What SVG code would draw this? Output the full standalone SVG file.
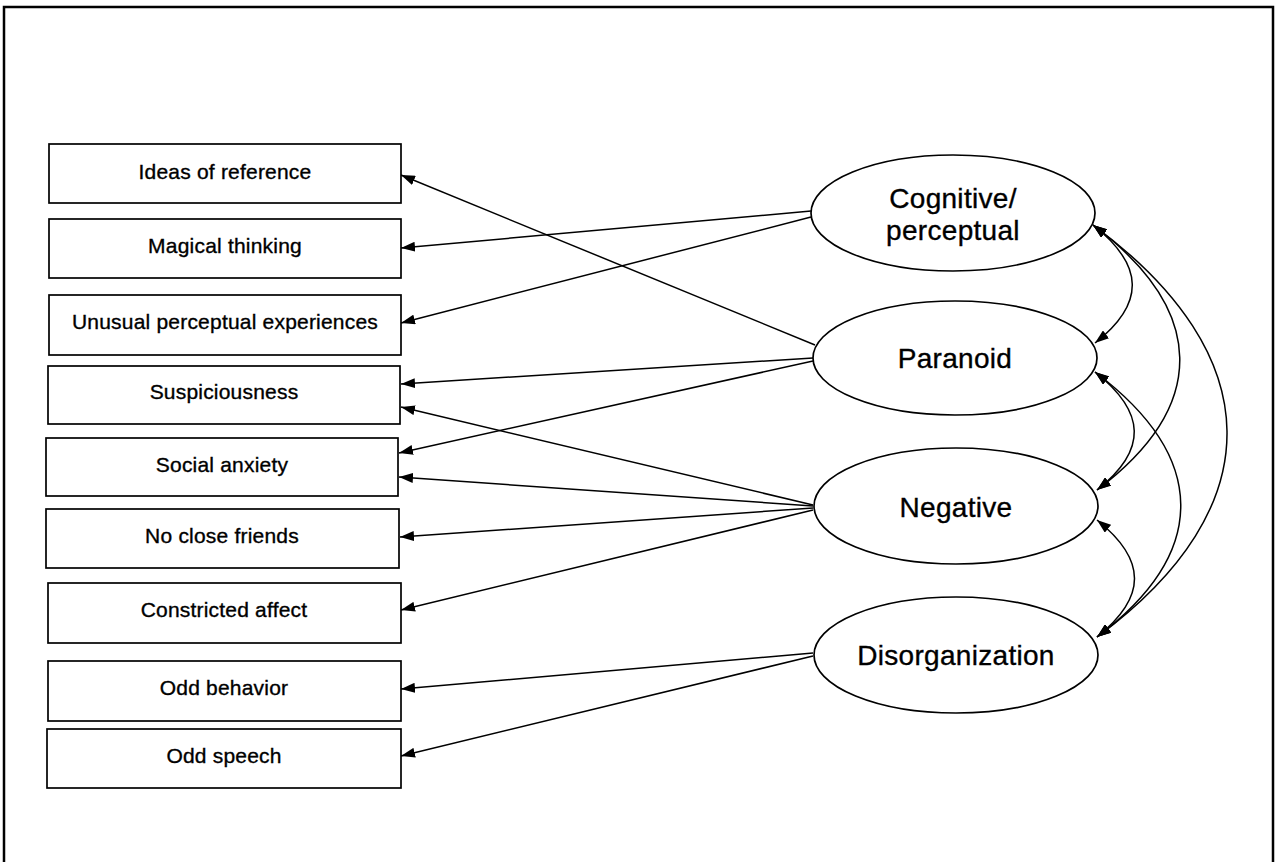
<svg xmlns="http://www.w3.org/2000/svg" width="1276" height="862" viewBox="0 0 1276 862">
<defs>
<style>
.frame{fill:none;stroke:#000;stroke-width:2.5}
.box{fill:#fff;stroke:#000;stroke-width:1.7}
.ell{fill:#fff;stroke:#000;stroke-width:1.7}
.bt{font-family:"Liberation Sans",Arial,Helvetica,sans-serif;font-size:21px;letter-spacing:0.2px;text-anchor:middle;fill:#000;stroke:#000;stroke-width:0.35}
.et{font-family:"Liberation Sans",Arial,Helvetica,sans-serif;font-size:28px;letter-spacing:0.3px;text-anchor:middle;fill:#000;stroke:#000;stroke-width:0.35}
.ln{fill:none;stroke:#000;stroke-width:1.5;marker-end:url(#ah)}
.cv{fill:none;stroke:#000;stroke-width:1.5;marker-start:url(#ah);marker-end:url(#ah)}
</style>
<marker id="ah" viewBox="0 0 14 10" refX="14" refY="5" markerWidth="14" markerHeight="10" markerUnits="userSpaceOnUse" orient="auto-start-reverse">
<path d="M0,0 L14,5 L0,10 z" fill="#000"/>
</marker>
</defs>
<rect width="1276" height="862" fill="#fff"/>
<path class="frame" d="M4,870 L4,7 L1273,7 L1273,870"/>

<g id="connectors">
<line class="ln" x1="811" y1="211" x2="401" y2="248"/>
<line class="ln" x1="811" y1="217" x2="401" y2="323"/>
<line class="ln" x1="815" y1="345" x2="401" y2="175"/>
<line class="ln" x1="813" y1="358" x2="401" y2="384"/>
<line class="ln" x1="813" y1="361" x2="399" y2="453"/>
<line class="ln" x1="813" y1="505" x2="401" y2="407"/>
<line class="ln" x1="813" y1="506" x2="399" y2="477"/>
<line class="ln" x1="813" y1="508" x2="400" y2="537"/>
<line class="ln" x1="813" y1="510" x2="401" y2="610"/>
<line class="ln" x1="813" y1="653" x2="401" y2="689"/>
<line class="ln" x1="813" y1="656" x2="401" y2="756"/>
<path class="cv" d="M1093,225 C1144,265 1146,303 1095,343"/>
<path class="cv" d="M1093,225 C1206,310 1210,405 1097,490"/>
<path class="cv" d="M1093,225 C1269,355 1273,507 1097,637"/>
<path class="cv" d="M1095,372 C1146,412 1148,450 1097,490"/>
<path class="cv" d="M1095,372 C1208,457 1210,552 1097,637"/>
<path class="cv" d="M1097,520 C1147,560 1147,597 1097,637"/>
</g>

<g id="ideas"><rect class="box" x="49" y="144" width="352" height="59"/><text class="bt" x="225" y="179">Ideas of reference</text></g>
<g id="magical"><rect class="box" x="49" y="219" width="352" height="59"/><text class="bt" x="225" y="253">Magical thinking</text></g>
<g id="unusual"><rect class="box" x="49" y="295" width="352" height="60"/><text class="bt" x="225" y="329">Unusual perceptual experiences</text></g>
<g id="suspicious"><rect class="box" x="48" y="366" width="352" height="58"/><text class="bt" x="224" y="399">Suspiciousness</text></g>
<g id="social"><rect class="box" x="46" y="438" width="352" height="58"/><text class="bt" x="222" y="472">Social anxiety</text></g>
<g id="friends"><rect class="box" x="46" y="509" width="353" height="59"/><text class="bt" x="222" y="543">No close friends</text></g>
<g id="affect"><rect class="box" x="48" y="583" width="353" height="60"/><text class="bt" x="224" y="617">Constricted affect</text></g>
<g id="behavior"><rect class="box" x="48" y="661" width="353" height="60"/><text class="bt" x="224" y="695">Odd behavior</text></g>
<g id="speech"><rect class="box" x="47" y="729" width="354" height="59"/><text class="bt" x="224" y="763">Odd speech</text></g>

<g id="cognitive"><ellipse class="ell" cx="953" cy="213" rx="142" ry="58"/><text class="et" x="953" y="208">Cognitive/</text><text class="et" x="953" y="240">perceptual</text></g>
<g id="paranoid"><ellipse class="ell" cx="955" cy="358" rx="142" ry="57"/><text class="et" x="955" y="368">Paranoid</text></g>
<g id="negative"><ellipse class="ell" cx="956" cy="506" rx="142" ry="58"/><text class="et" x="956" y="517">Negative</text></g>
<g id="disorganization"><ellipse class="ell" cx="956" cy="655" rx="142" ry="58"/><text class="et" x="956" y="665">Disorganization</text></g>
</svg>
